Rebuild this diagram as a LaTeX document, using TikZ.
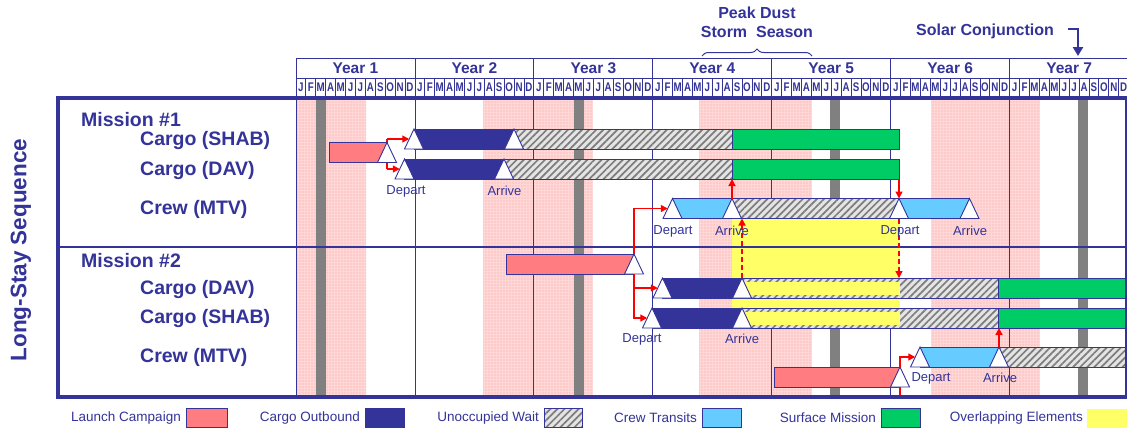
\documentclass[tikz,border=0pt]{standalone}
\usepackage{fontspec}
\setmainfont{Liberation Sans}
\usepackage{graphicx}
\usetikzlibrary{patterns.meta,arrows.meta,decorations.pathreplacing}
\definecolor{mblue}{RGB}{51,51,153}
\definecolor{lpink}{RGB}{255,124,128}
\definecolor{lblue}{RGB}{102,204,255}
\definecolor{sgreen}{RGB}{0,204,102}
\definecolor{oyellow}{RGB}{255,255,102}
\definecolor{dustpink}{RGB}{255,215,215}
\definecolor{dustdot}{RGB}{248,160,160}
\definecolor{hatchbg}{RGB}{228,228,228}
\definecolor{hatchfg}{RGB}{125,125,125}
\definecolor{conjgray}{RGB}{128,128,128}
\tikzset{
 grid/.style={draw=mblue, line width=0.9pt},
 bx/.style={draw=mblue, line width=0.9pt},
 launch/.style={bx, fill=lpink},
 outbound/.style={bx, fill=mblue},
 wait/.style={bx, preaction={fill=hatchbg}, pattern={Lines[angle=45,distance=5pt,line width=1.7pt]}, pattern color=hatchfg},
 transit/.style={bx, fill=lblue},
 surface/.style={bx, fill=sgreen},
 overlap/.style={fill=oyellow},
 tri/.style={draw=mblue, line width=0.9pt, fill=white, line join=miter},
 dust/.style={preaction={fill=dustpink}, pattern={Dots[distance=3pt,radius=0.6pt]}, pattern color=dustdot},
 conj/.style={fill=conjgray},
 redln/.style={draw=red, line width=1.4pt},
 redarr/.style={redln, -{Triangle[length=7pt,width=7pt]}},
 reddash/.style={redarr, dash pattern=on 5pt off 3pt},
 ev/.style={text=mblue, font=\fontsize{13}{14}\selectfont, inner sep=0pt},
 rowlab/.style={text=mblue, font=\bfseries\fontsize{19.5}{21}\selectfont, anchor=west, inner sep=0pt},
 leglab/.style={text=mblue, font=\fontsize{13.5}{15}\selectfont, anchor=east, inner sep=0pt},
 yearlab/.style={text=mblue, font=\bfseries\fontsize{15.5}{16}\selectfont, inner sep=0pt},
 monlab/.style={text=mblue, font=\bfseries\fontsize{12.5}{13}\selectfont, inner sep=0pt},
 toplab/.style={text=mblue, font=\bfseries\fontsize{16}{17}\selectfont, inner sep=0pt},
}
% segment: style, x1, y1, x2, y2
\newcommand\seg[5]{\path[#1] (#2,#3) rectangle (#4,#5);}
% triangle: name, apex x, center y
\newcommand\tri[3]{%
 \draw[tri] ({#2-9.5},{#3+10}) -- (#2,{#3-10}) -- ({#2+9.5},{#3+10}) -- cycle;
 \coordinate (#1t) at (#2,{#3-10});
 \coordinate (#1b) at (#2,{#3+10});
 \coordinate (#1l) at ({#2-4.75},#3);}
\begin{document}
\begin{tikzpicture}[x=1pt,y=-1pt]
\useasboundingbox (0,0) rectangle (1127,429);
\fill[white] (0,0) rectangle (1127,429);
% dust storm seasons
\foreach \a/\b in {297/366,483/593,699/812,931/1040} \path[dust] (\a,100) rectangle (\b,395);
% solar conjunctions
\foreach \a in {316,574,830,1078} \path[conj] (\a,100) rectangle (\a+10,395);
% year lines
\foreach \k in {0,...,6} \draw[grid] ({296+118.95*\k},98) -- ({296+118.95*\k},397);
% overlapping elements
\fill[overlap] (732,218.5) rectangle (900,328);
% mission divider
\draw[grid, line width=1.1pt] (58,247) -- (1127,247);

% ---- Mission 1 ----
% launch campaign 1
\draw[redln] (387,139) coordinate (j1) -- (387,169) coordinate (j2);
\seg{launch}{329}{142.5}{387}{162.5}
\tri{la}{387}{152.5}
% cargo SHAB
\seg{outbound}{414}{129}{514}{149}
\seg{wait}{514}{129}{732}{149}
\seg{surface}{732}{129}{899}{149}
\tri{sa}{414}{139}
\tri{sb}{514}{139}
% cargo DAV
\seg{outbound}{404.5}{159}{504}{179}
\seg{wait}{504}{159}{732}{179}
\seg{surface}{732}{159}{899}{179}
\coordinate (dgs) at (732,179);
\coordinate (dge) at (899,179);
\tri{da}{404.5}{169}
\tri{db}{504}{169}
% crew MTV
\seg{transit}{672.5}{198.5}{732}{218.5}
\seg{wait}{732}{198.5}{899}{218.5}
\seg{transit}{899}{198.5}{969.5}{218.5}
\tri{ca}{672.5}{208.5}
\tri{cb}{732}{208.5}
\tri{cc}{899}{208.5}
\tri{cd}{969.5}{208.5}

% ---- Mission 2 ----
\seg{launch}{506}{254}{634}{274}
\tri{lb}{634}{264}
% cargo DAV
\seg{outbound}{662.5}{278}{742}{298}
\seg{wait}{742}{278}{998}{298}
\seg{surface}{998}{278}{1127}{298}
\fill[overlap] (742,281.5) rectangle (900,294.5);
\coordinate (d2top) at (899,278);
\tri{ea}{662.5}{288}
\tri{eb}{742}{288}
% cargo SHAB
\seg{outbound}{652}{308}{742}{328}
\seg{wait}{742}{308}{998}{328}
\seg{surface}{998}{308}{1127}{328}
\fill[overlap] (742,311.5) rectangle (900,324.5);
\coordinate (s2gs) at (999,328);
\tri{fa}{652}{318}
\tri{fb}{742}{318}
% crew MTV
\seg{transit}{920}{347}{999}{367}
\seg{wait}{999}{347}{1127}{367}
\seg{launch}{774}{367}{900}{387}
\coordinate (lcend) at (900,396);
\tri{ga}{920}{357}
\tri{gb}{999}{357}
\tri{lc}{900}{377}

% ---- red connectors ----
\draw[redarr] (j1) -- (sal);
\draw[redarr] (j2) -- (dal);
\draw[redarr] (lbt) |- (cal);
\draw[redarr] (lbb) |- (eal);
\draw[redarr] (lbb) |- (fal);
\draw[redarr] (cbt) -- (dgs);
\draw[redarr] (dge) -- (cct);
\draw[reddash] (ebt) -- (cbb -| ebt);
\draw[reddash] (ccb) -- (d2top);
\draw[redarr] (lct) |- (gal);
\draw[redln] (lcb) -- (lcend);
\draw[redarr] (gbt) -- (s2gs);

% ---- event labels ----
\node[ev] (e1) at (406,191) {Depart};
\node[ev] (e2) at (504.5,191) {Arrive};
\node[ev] (e3) at (673,231) {Depart};
\node[ev] (e4) at (732,231) {Arrive};
\node[ev] (e5) at (900,231) {Depart};
\node[ev] (e6) at (970,231) {Arrive};
\node[ev] (e7) at (642,339) {Depart};
\node[ev] (e8) at (742,339) {Arrive};
\node[ev] (e9) at (931,378) {Depart};
\node[ev] (e10) at (1000,378) {Arrive};

% ---- header ----
\foreach \k in {0,...,6} {
 \pgfmathsetmacro\yrx{296+118.95*\k}
 \pgfmathtruncatemacro\yn{\k+1}
 \draw[grid, fill=white] (\yrx,58.5) rectangle ({\yrx+118.95},78);
 \node[yearlab] (yr\yn) at ({\yrx+59.475},68.5) {Year \yn};
 \foreach \m/\l in {0/J,1/F,2/M,3/A,4/M,5/J,6/J,7/A,8/S,9/O,10/N,11/D} {
   \pgfmathsetmacro\xm{\yrx+9.9125*\m}
   \draw[grid, fill=white] (\xm,78) rectangle ({\xm+9.9125},96);
   \node[monlab] (m\yn-\m) at ({\xm+4.956},86.8) {\scalebox{0.78}[1]{\l}};
 }
}
% frame
\draw[mblue, line width=4pt] (58,98) rectangle (1127,397);
\draw[grid] (296,98) -- (296,397);

% ---- left labels ----
\node[text=mblue, font=\bfseries\fontsize{22.5}{24}\selectfont, rotate=90, inner sep=0pt] (seq) at (21,250) {Long-Stay Sequence};
\node[rowlab] (r1) at (81,120) {Mission \#1};
\node[rowlab] (r2) at (140,140) {Cargo (SHAB)};
\node[rowlab] (r3) at (140,170) {Cargo (DAV)};
\node[rowlab] (r4) at (140,209) {Crew (MTV)};
\node[rowlab] (r5) at (81,261) {Mission \#2};
\node[rowlab] (r6) at (140,289) {Cargo (DAV)};
\node[rowlab] (r7) at (140,318) {Cargo (SHAB)};
\node[rowlab] (r8) at (140,357) {Crew (MTV)};

% ---- top annotations ----
\node[toplab] (pd1) at (757,13) {Peak Dust};
\node[toplab] (pd2) at (757,32) {Storm~~Season};
\coordinate (brl) at (702,56);
\coordinate (brr) at (812,56);
\draw[mblue, line width=1pt, decorate, decoration={brace, amplitude=7pt}] (brl) -- (brr);
\node[toplab] (sc) at (985,31) {Solar Conjunction};
\coordinate (sca) at (1068,29);
\coordinate (scb) at (1078,56);
\draw[mblue, line width=2.6pt, -{Triangle[length=9pt,width=10pt]}] (sca) -| (scb);

% ---- legend ----
\node[leglab] (lg1) at (181,418) {Launch Campaign};
\path[launch] (186,408.5) rectangle (227,427.5);
\node[leglab] (lg2) at (360,418) {Cargo Outbound};
\path[outbound] (365,408.5) rectangle (404,427.5);
\node[leglab] (lg3) at (539,418) {Unoccupied Wait};
\path[wait] (544,408.5) rectangle (582,427.5);
\node[leglab] (lg4) at (697,418) {Crew Transits};
\path[transit] (702,408.5) rectangle (741,427.5);
\node[leglab] (lg5) at (876,418) {Surface Mission};
\path[surface] (881,408.5) rectangle (920,427.5);
\node[leglab] (lg6) at (1083,418) {Overlapping Elements};
\path[overlap] (1087,408.5) rectangle (1130,427.5);
\end{tikzpicture}
\end{document}
